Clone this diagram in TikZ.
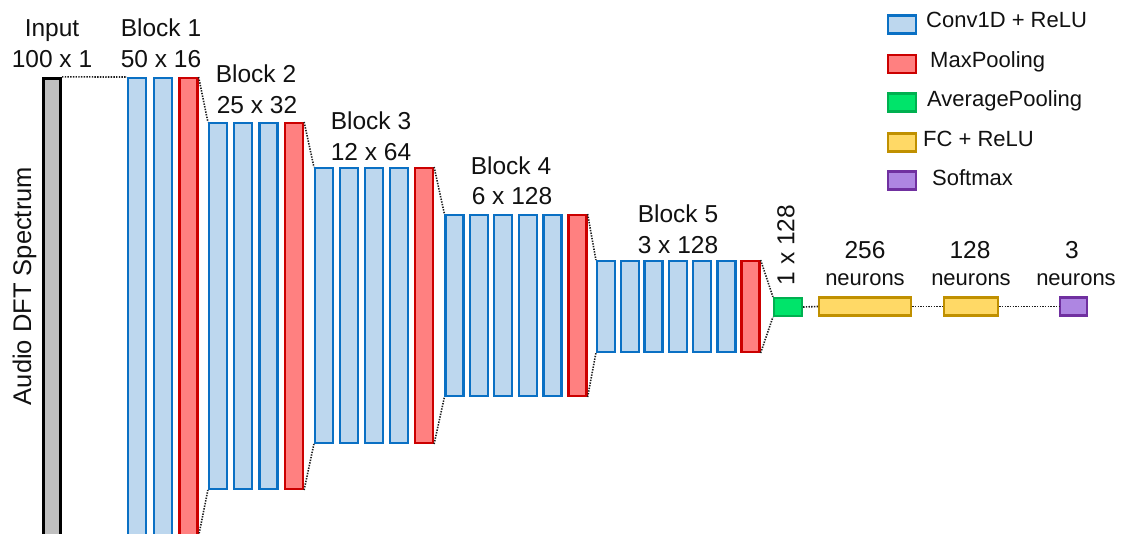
\documentclass[tikz,border=0pt]{standalone}
\usepackage{fontspec}
\setmainfont{Liberation Sans}
\definecolor{convfill}{HTML}{BDD7EE}
\definecolor{convedge}{HTML}{0A70C4}
\definecolor{poolfill}{HTML}{FF8080}
\definecolor{pooledge}{HTML}{CC0000}
\definecolor{avgfill}{HTML}{00E46A}
\definecolor{avgedge}{HTML}{00B050}
\definecolor{fcfill}{HTML}{FFD966}
\definecolor{fcedge}{HTML}{C09000}
\definecolor{smfill}{HTML}{AE86E2}
\definecolor{smedge}{HTML}{7030A0}
\definecolor{infill}{HTML}{BFBFBF}
\definecolor{linkgray}{HTML}{1E1E1E}
\definecolor{textdark}{HTML}{111111}
% one bar: name, style, centre x, top y, bottom y
\newcommand\barnode[5]{%
  \node[#2, minimum height={#5-#4-2.4}] (#1) at (#3,{(#4+#5)/2}) {};}
\begin{document}
\begin{tikzpicture}[x=1pt,y=-1pt,
  bar/.style={rectangle, draw, inner sep=0pt, line width=2.4pt, minimum width=17.8pt},
  conv/.style={bar, draw=convedge, fill=convfill},
  pool/.style={bar, draw=pooledge, fill=poolfill},
  inbar/.style={bar, draw=black, fill=infill, line width=2.6pt, minimum width=17.5pt},
  flat/.style={rectangle, inner sep=0pt, line width=2.2pt, minimum height=18pt},
  avg/.style={flat, draw=avgedge, fill=avgfill},
  fc/.style={flat, draw=fcedge, fill=fcfill},
  soft/.style={flat, draw=smedge, fill=smfill},
  key/.style={rectangle, inner sep=0pt, line width=2.2pt, minimum width=28pt, minimum height=18pt},
  link/.style={draw=linkgray, line width=1.6pt, dash pattern=on 1.4pt off 1.3pt},
  lbl/.style={font=\fontsize{24.5}{27}\selectfont, text=textdark, anchor=base, inner sep=0pt},
  side/.style={font=\fontsize{25.5}{28}\selectfont, text=textdark, anchor=base, inner sep=0pt},
  small/.style={font=\fontsize{22}{25}\selectfont, text=textdark, anchor=base, inner sep=0pt},
  legtxt/.style={font=\fontsize{22}{25}\selectfont, text=textdark, anchor=base west, inner sep=0pt}]
\useasboundingbox (0,0) rectangle (1121,533);
\clip (0,0) rectangle (1121,533);

% input spectrum
\barnode{in}{inbar}{52}{77}{536}
\node[side, rotate=90] (t-audio) at (31,286) {Audio DFT Spectrum};
\node[lbl] (t-in1) at (52,36) {Input};
\node[lbl] (t-in2) at (52,67) {100 x 1};

% convolutional blocks
\foreach \x [count=\i] in {137,163} {\barnode{b1c\i}{conv}{\x}{77}{536}}
\barnode{b1p}{pool}{188.5}{77}{536}
\foreach \x [count=\i] in {218,243,268.5} {\barnode{b2c\i}{conv}{\x}{122}{490}}
\barnode{b2p}{pool}{294}{122}{490}
\foreach \x [count=\i] in {324,349,374,399} {\barnode{b3c\i}{conv}{\x}{167}{444}}
\barnode{b3p}{pool}{424}{167}{444}
\foreach \x [count=\i] in {454.5,479,503,528,552.5} {\barnode{b4c\i}{conv}{\x}{214}{397}}
\barnode{b4p}{pool}{577.5}{214}{397}
\foreach \x [count=\i] in {606,630,653.5,678,702,726.5} {\barnode{b5c\i}{conv}{\x}{260}{353}}
\barnode{b5p}{pool}{750.5}{260}{353}

\node[lbl] (t-b1a) at (161,36) {Block 1};
\node[lbl] (t-b1b) at (161,67) {50 x 16};
\node[lbl] (t-b2a) at (256,82) {Block 2};
\node[lbl] (t-b2b) at (257,113) {25 x 32};
\node[lbl] (t-b3a) at (371,129) {Block 3};
\node[lbl] (t-b3b) at (371,160) {12 x 64};
\node[lbl] (t-b4a) at (511,174) {Block 4};
\node[lbl] (t-b4b) at (512,204) {6 x 128};
\node[lbl] (t-b5a) at (678,222) {Block 5};
\node[lbl] (t-b5b) at (678,253) {3 x 128};

% pooling and dense head
\node[avg, minimum width=28pt] (gap) at (788,307) {};
\node[fc, minimum width=92pt] (fc1) at (865,306.5) {};
\node[fc, minimum width=54pt] (fc2) at (971,306.5) {};
\node[soft, minimum width=27pt] (out) at (1073.5,306.5) {};
\node[lbl, rotate=90, anchor=center] (t-gap) at (786,245) {1 x 128};
\node[lbl] (t-fc1a) at (865,258) {256};
\node[small] (t-fc1b) at (865,285) {neurons};
\node[lbl] (t-fc2a) at (970,258) {128};
\node[small] (t-fc2b) at (971,285) {neurons};
\node[lbl] (t-outa) at (1072,258) {3};
\node[small] (t-outb) at (1076,285) {neurons};

% dotted connectors
\draw[link] (in.north east) -- (b1c1.north west);
\draw[link] (in.south east) -- (b1c1.south west);
\draw[link] (b1p.north east) -- (b2c1.north west);
\draw[link] (b1p.south east) -- (b2c1.south west);
\draw[link] (b2p.north east) -- (b3c1.north west);
\draw[link] (b2p.south east) -- (b3c1.south west);
\draw[link] (b3p.north east) -- (b4c1.north west);
\draw[link] (b3p.south east) -- (b4c1.south west);
\draw[link] (b4p.north east) -- (b5c1.north west);
\draw[link] (b4p.south east) -- (b5c1.south west);
\draw[link] (b5p.north east) -- (gap.north west);
\draw[link] (b5p.south east) -- (gap.south west);
\draw[link] (gap.east) -- (fc1.west);
\draw[link] (fc1.east) -- (fc2.west);
\draw[link] (fc2.east) -- (out.west);

% legend
\node[key, draw=convedge, fill=convfill] (k1) at (902,24.5) {};
\node[key, draw=pooledge, fill=poolfill] (k2) at (902,64) {};
\node[key, draw=avgedge, fill=avgfill] (k3) at (902,102.5) {};
\node[key, draw=fcedge, fill=fcfill] (k4) at (902,142.5) {};
\node[key, draw=smedge, fill=smfill] (k5) at (902,180.5) {};
\node[legtxt] (l1) at (926,27) {Conv1D + ReLU};
\node[legtxt] (l2) at (930,67) {MaxPooling};
\node[legtxt] (l3) at (927,106) {AveragePooling};
\node[legtxt] (l4) at (923,146) {FC + ReLU};
\node[legtxt] (l5) at (932,185) {Softmax};
\end{tikzpicture}
\end{document}
